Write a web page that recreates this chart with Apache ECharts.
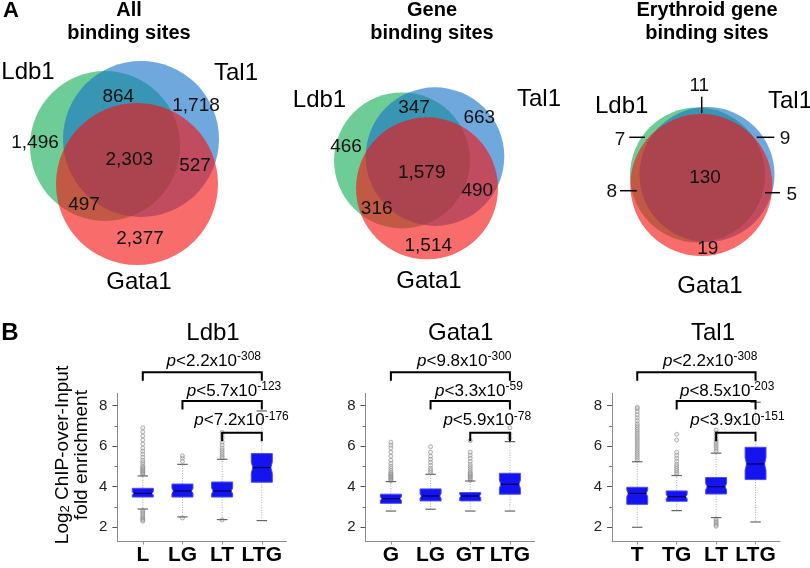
<!DOCTYPE html>
<html><head><meta charset="utf-8">
<script src="https://cdn.jsdelivr.net/npm/echarts@6/dist/echarts.min.js"></script>
<style>html,body{margin:0;padding:0;background:#fff}#c{width:810px;height:568px}</style>
</head><body><div id="c"></div>
<script>
// ---------------- DATA ----------------
const vennSets = ['Ldb1', 'Tal1', 'Gata1'];
const vennTitles = [['All', 'binding sites'], ['Gene', 'binding sites'], ['Erythroid gene', 'binding sites']];
// region order: Ldb1 only, Tal1 only, Gata1 only, Ldb1&Tal1, Ldb1&Gata1, Tal1&Gata1, all three
const vennAll  = [1496, 1718, 2377, 864, 497, 527, 2303];
const vennGene = [466, 663, 1514, 347, 316, 490, 1579];
const vennEry  = [7, 9, 19, 11, 8, 5, 130];

const boxTitles = ['Ldb1', 'Gata1', 'Tal1'];
const ldb1Cats = ['L', 'LG', 'LT', 'LTG'];
const gata1Cats = ['G', 'LG', 'GT', 'LTG'];
const tal1Cats = ['T', 'TG', 'LT', 'LTG'];
// [lower whisker, Q1, median, Q3, upper whisker]
const ldb1Box = [[2.90, 3.49, 3.67, 3.92, 4.53], [2.51, 3.49, 3.79, 4.13, 5.10], [2.38, 3.49, 3.79, 4.23, 5.35], [2.33, 4.22, 4.94, 5.63, 7.73]];
const gata1Box = [[2.80, 3.18, 3.41, 3.63, 4.25], [2.89, 3.30, 3.54, 3.89, 4.61], [2.80, 3.30, 3.54, 3.71, 4.28], [2.80, 3.63, 4.12, 4.66, 6.22]];
const tal1Box = [[2.00, 3.13, 3.67, 3.97, 5.23], [2.82, 3.28, 3.51, 3.79, 4.55], [2.48, 3.64, 4.00, 4.45, 5.65], [2.26, 4.35, 5.12, 5.94, 8.16]];
const ldb1Out = [
  [4.6, 4.65, 4.7, 4.75, 4.8, 4.85, 4.9, 4.95, 5.0, 5.1, 5.2, 5.3, 5.45, 5.6, 5.75, 5.9, 6.1, 6.3, 6.5, 6.7, 6.9, 2.82, 2.75, 2.68, 2.6, 2.52, 2.45, 2.4, 2.35, 2.3],
  [5.25, 5.4, 5.52, 2.46],
  [5.42, 5.5, 5.6, 5.7, 5.8, 5.9, 6.05, 6.2, 6.4, 6.55, 6.68, 2.36],
  []
];
const gata1Out = [
  [4.3, 4.35, 4.4, 4.45, 4.5, 4.55, 4.6, 4.65, 4.7, 4.8, 4.9, 5.0, 5.15, 5.3, 5.5, 5.7, 5.9, 6.05, 6.19],
  [4.7, 4.8, 4.9, 5.05, 5.2, 5.35, 5.5, 5.7, 5.97],
  [4.32, 4.38, 4.45, 4.5, 4.55, 4.6, 4.65, 4.7, 4.8, 4.9, 5.0, 5.1, 5.25, 5.4, 5.55, 5.7, 6.27],
  [6.4, 6.6, 6.9]
];
const tal1Out = [
  [5.3, 5.4, 5.5, 5.6, 5.7, 5.8, 5.9, 6.0, 6.1, 6.2, 6.3, 6.4, 6.5, 6.6, 6.7, 6.8, 6.9, 7.0, 7.1, 7.25, 7.4, 7.55, 7.7, 7.85, 7.91],
  [4.62, 4.7, 4.8, 4.9, 5.0, 5.1, 5.25, 5.4, 5.55, 5.7, 6.3, 6.58],
  [5.75, 5.85, 5.95, 6.05, 6.15, 6.25, 6.35, 6.5, 6.65, 6.79, 2.4, 2.32, 2.25, 2.18, 2.1, 2.05],
  []
];
// comparisons: [from, to, mantissa, exponent]
const ldb1P = [[0, 3, '2.2', '-308'], [1, 3, '5.7', '-123'], [2, 3, '7.2', '-176']];
const gata1P = [[0, 3, '9.8', '-300'], [1, 3, '3.3', '-59'], [2, 3, '5.9', '-78']];
const tal1P = [[0, 3, '2.2', '-308'], [1, 3, '8.5', '-203'], [2, 3, '3.9', '-151']];
const yTickLabels = [2, 4, 6, 8];
const yMinorTicks = [3, 5, 7];

// ---------------- LAYOUT / STYLE ----------------
const FONT = 'Liberation Sans, Arial, Helvetica, sans-serif';
const vennColors = ['rgba(21,174,86,0.62)', 'rgba(23,115,199,0.62)', 'rgba(244,18,18,0.62)'];
const vennLayout = [
  { circles: [[105, 146, 75], [141, 139, 78], [137, 184, 81]],
    regions: [[35, 142.7], [196, 106], [140, 238.3], [118.3, 96.7], [84, 205], [195, 165.7], [129.3, 160]],
    names: [[28, 72], [236, 73], [139, 282]], titleX: 129 },
  { circles: [[402, 160.4, 68], [435, 156.6, 69.3], [427, 188.3, 71]],
    regions: [[346, 146.7], [479.3, 117.3], [428.3, 246], [414, 107.3], [376.7, 209], [477.3, 190.7], [421.7, 172.7]],
    names: [[319.5, 100], [539, 99], [429, 281]], titleX: 432 },
  { circles: [[697.5, 175, 67.5], [707, 174.5, 67.5], [701.3, 185, 71]],
    regions: [[620, 139.3], [785, 138.3], [707.7, 248.3], [699.3, 86], [611.7, 191.7], [791.7, 195], [705, 177.7]],
    names: [[621.7, 106], [790, 101], [710, 286]], titleX: 707 }
];
const vennLeaders = [[[701.7, 96.7], [701.7, 113.3]], [[629.3, 137.3], [645, 137.3]], [[756.7, 137.3], [774.3, 137.3]], [[620, 190.7], [636.7, 190.7]], [[765, 192.7], [780, 192.7]]];

const boxGrids = [{ left: 117.4, width: 169 }, { left: 365.5, width: 169 }, { left: 612, width: 168 }];
const GRID_TOP = 393.3, GRID_H = 148.2, Y_MIN = 1.3, Y_MAX = 8.6, X_MIN = -0.64, X_MAX = 3.62;
const bracketLevels = [9.64, 8.22, 6.66], bracketDrop = 0.42;
const pLabelY = [10.19, 8.71, 7.27];
const pLabelX = [[1.79, 2.30, 2.49], [1.85, 2.22, 2.43], [1.85, 2.28, 2.54]];
const BOX_W = 0.53;

// ---------------- BUILD ----------------
const panels = [
  { cats: ldb1Cats, box: ldb1Box, out: ldb1Out, p: ldb1P },
  { cats: gata1Cats, box: gata1Box, out: gata1Out, p: gata1P },
  { cats: tal1Cats, box: tal1Box, out: tal1Out, p: tal1P }
];
const vennCounts = [vennAll, vennGene, vennEry];

const grid = [{ left: 0, top: 0, width: 810, height: 568 }];
const xAxis = [{ gridIndex: 0, type: 'value', min: 0, max: 810, show: false }];
const yAxis = [{ gridIndex: 0, type: 'value', min: 0, max: 568, inverse: true, show: false }];
panels.forEach((pn, i) => {
  grid.push({ left: boxGrids[i].left, width: boxGrids[i].width, top: GRID_TOP, height: GRID_H });
  xAxis.push({
    gridIndex: i + 1, type: 'value', min: X_MIN, max: X_MAX, position: 'bottom',
    axisLine: { show: true, onZero: false, lineStyle: { color: '#8c8c8c', width: 1 } },
    axisTick: { show: true, customValues: [0, 1, 2, 3], length: 3, lineStyle: { color: '#8c8c8c' } },
    axisLabel: { customValues: [0, 1, 2, 3], formatter: v => pn.cats[Math.round(v)], fontFamily: FONT, fontSize: 21, fontWeight: 'bold', color: '#000', margin: 3 },
    splitLine: { show: false }
  });
});
panels.forEach((pn, i) => {
  yAxis.push({
    gridIndex: i + 1, type: 'value', min: Y_MIN, max: Y_MAX, position: 'left',
    axisLine: { show: true, onZero: false, lineStyle: { color: '#8c8c8c', width: 1 } },
    axisTick: { show: true, customValues: yTickLabels, length: 5, lineStyle: { color: '#555' } },
    axisLabel: { customValues: yTickLabels, fontFamily: FONT, fontSize: 15, color: '#222', margin: 10 },
    splitLine: { show: false }
  });
});
panels.forEach((pn, i) => {
  yAxis.push({
    gridIndex: i + 1, type: 'value', min: Y_MIN, max: Y_MAX, position: 'left', offset: 0,
    axisLine: { show: false, onZero: false },
    axisTick: { show: true, customValues: yMinorTicks, length: 3, lineStyle: { color: '#777' } },
    axisLabel: { show: false }, splitLine: { show: false }
  });
});

const series = [];
// Venn circles
const circleData = [];
vennLayout.forEach(L => L.circles.forEach((c, k) => circleData.push([c[0], c[1], c[2], k])));
series.push({
  type: 'custom', xAxisIndex: 0, yAxisIndex: 0, silent: true, z: 1,
  data: circleData,
  renderItem: (params, api) => {
    const p = api.coord([api.value(0), api.value(1)]);
    const r = api.size([api.value(2), 0])[0];
    return { type: 'circle', shape: { cx: p[0], cy: p[1], r: r }, style: { fill: vennColors[api.value(3)] } };
  }
});
// Venn counts
const vennTextPos = [], vennText = [];
vennLayout.forEach((L, p) => L.regions.forEach((pt, k) => { vennTextPos.push(pt); vennText.push(vennCounts[p][k].toLocaleString('en-US')); }));
series.push({
  type: 'custom', xAxisIndex: 0, yAxisIndex: 0, silent: true, z: 5,
  data: vennTextPos,
  renderItem: (params, api) => {
    const p = api.coord([api.value(0), api.value(1)]);
    return { type: 'text', x: p[0], y: p[1], style: { text: vennText[params.dataIndex], fontFamily: FONT, fontSize: 19, fill: '#111', align: 'center', verticalAlign: 'middle' } };
  }
});
// Venn set names
const namePos = [], nameText = [];
vennLayout.forEach(L => L.names.forEach((pt, k) => { namePos.push(pt); nameText.push(vennSets[k]); }));
series.push({
  type: 'custom', xAxisIndex: 0, yAxisIndex: 0, silent: true, z: 5,
  data: namePos,
  renderItem: (params, api) => {
    const p = api.coord([api.value(0), api.value(1)]);
    return { type: 'text', x: p[0], y: p[1], style: { text: nameText[params.dataIndex], fontFamily: FONT, fontSize: 24, fill: '#000', align: 'center', verticalAlign: 'middle' } };
  }
});
// Venn leader lines
series.push({
  type: 'custom', xAxisIndex: 0, yAxisIndex: 0, silent: true, z: 5,
  data: vennLeaders.map(l => [l[0][0], l[0][1], l[1][0], l[1][1]]),
  renderItem: (params, api) => {
    const a = api.coord([api.value(0), api.value(1)]), b = api.coord([api.value(2), api.value(3)]);
    return { type: 'line', shape: { x1: a[0], y1: a[1], x2: b[0], y2: b[1] }, style: { stroke: '#000', lineWidth: 1.5 } };
  }
});

// Boxplots
panels.forEach((pn, i) => {
  const xi = i + 1, yi = i + 1;
  series.push({
    type: 'custom', xAxisIndex: xi, yAxisIndex: yi, silent: true, z: 3,
    data: pn.box.map((b, k) => [k].concat(b)),
    encode: { x: 0, y: [1, 2, 3, 4, 5] },
    renderItem: (params, api) => {
      const x = api.value(0);
      const mn = api.value(1), q1 = api.value(2), md = api.value(3), q3 = api.value(4), mx = api.value(5);
      const hw = api.size([BOX_W, 0])[0] / 2;
      const cx = api.coord([x, md])[0];
      const Y = v => api.coord([x, v])[1];
      const nh = (q3 - q1) * 0.2, ind = hw * 0.14;
      const pts = [[cx - hw, Y(q3)], [cx + hw, Y(q3)], [cx + hw, Y(md + nh)], [cx + hw - ind, Y(md)], [cx + hw, Y(md - nh)], [cx + hw, Y(q1)],
        [cx - hw, Y(q1)], [cx - hw, Y(md - nh)], [cx - hw + ind, Y(md)], [cx - hw, Y(md + nh)]];
      const capW = hw * 0.5;
      return { type: 'group', children: [
        { type: 'line', shape: { x1: cx, y1: Y(q3), x2: cx, y2: Y(mx) }, style: { stroke: '#a8a8a8', lineWidth: 1, lineDash: [1, 1.5] } },
        { type: 'line', shape: { x1: cx, y1: Y(q1), x2: cx, y2: Y(mn) }, style: { stroke: '#a8a8a8', lineWidth: 1, lineDash: [1, 1.5] } },
        { type: 'line', shape: { x1: cx - capW, y1: Y(mx), x2: cx + capW, y2: Y(mx) }, style: { stroke: '#666', lineWidth: 1.2 } },
        { type: 'line', shape: { x1: cx - capW, y1: Y(mn), x2: cx + capW, y2: Y(mn) }, style: { stroke: '#666', lineWidth: 1.2 } },
        { type: 'polygon', shape: { points: pts }, style: { fill: '#1414ee', stroke: '#4a4aff', lineWidth: 1 } },
        { type: 'line', shape: { x1: cx - hw + ind, y1: Y(md), x2: cx + hw - ind, y2: Y(md) }, style: { stroke: '#000050', lineWidth: 1.2 } }
      ] };
    }
  });
  const outData = [];
  pn.out.forEach((arr, k) => arr.forEach(v => outData.push([k, v])));
  series.push({
    type: 'scatter', xAxisIndex: xi, yAxisIndex: yi, silent: true, z: 2,
    symbol: 'circle', symbolSize: 4,
    itemStyle: { color: 'rgba(200,200,200,0.35)', borderColor: '#8a8a8a', borderWidth: 0.8 },
    data: outData
  });
  // brackets
  series.push({
    type: 'custom', xAxisIndex: xi, yAxisIndex: yi, silent: true, z: 6, clip: false,
    data: pn.p.map((c, k) => [c[0], c[1], bracketLevels[k]]),
    encode: { x: [0, 1], y: 2 },
    renderItem: (params, api) => {
      const lv = api.value(2);
      const a = api.coord([api.value(0), lv - bracketDrop]), b = api.coord([api.value(0), lv]);
      const c = api.coord([api.value(1), lv]), d = api.coord([api.value(1), lv - bracketDrop]);
      return { type: 'polyline', shape: { points: [a, b, c, d] }, style: { stroke: '#000', lineWidth: 2, fill: null } };
    }
  });
  // p labels
  series.push({
    type: 'custom', xAxisIndex: xi, yAxisIndex: yi, silent: true, z: 7, clip: false,
    data: pn.p.map((c, k) => [pLabelX[i][k], pLabelY[k]]),
    renderItem: (params, api) => {
      const c = pn.p[params.dataIndex];
      const p = api.coord([api.value(0), api.value(1)]);
      return { type: 'text', x: p[0], y: p[1], style: {
        text: '{i|p}{m|<' + c[2] + 'x10}{s|' + c[3] + '}',
        fontFamily: FONT, fill: '#000', align: 'center', verticalAlign: 'middle',
        rich: {
          i: { fontFamily: FONT, fontStyle: 'italic', fontSize: 17, lineHeight: 20, fill: '#000' },
          m: { fontFamily: FONT, fontSize: 17, lineHeight: 20, fill: '#000' },
          s: { fontFamily: FONT, fontSize: 12, lineHeight: 12, verticalAlign: 'top', fill: '#000' }
        } } };
    }
  });
});

// titles / labels
const txt = (text, x, y, size, bold, extra) => Object.assign({
  type: 'text', x: x, y: y, silent: true, z: 10,
  style: { text: text, fontFamily: FONT, fontSize: size, fontWeight: bold ? 'bold' : 'normal', fill: '#000',
    align: 'center', verticalAlign: 'middle', textAlign: 'center', textVerticalAlign: 'middle' }
}, extra || {});
const graphics = [];
graphics.push(txt('A', 11, 11, 22, true));
graphics.push(txt('B', 10, 333, 24, true));
vennLayout.forEach((L, p) => {
  graphics.push(txt(vennTitles[p][0], L.titleX, 10, 20, true));
  graphics.push(txt(vennTitles[p][1], L.titleX, 33, 20, true));
});
const boxTitleX = [213, 460.7, 713];
boxTitles.forEach((t, i) => graphics.push(txt(t, boxTitleX[i], 333, 24, false)));
graphics.push({
  type: 'text', x: 72, y: 455, rotation: Math.PI / 2, silent: true, z: 10,
  style: {
    text: '{n|Log}{s|2}{n| ChIP-over-Input}\n{n|fold enrichment}',
    fontFamily: FONT, fill: '#000', align: 'center', verticalAlign: 'middle', textAlign: 'center', textVerticalAlign: 'middle',
    rich: {
      n: { fontFamily: FONT, fontSize: 19, lineHeight: 19, fill: '#000' },
      s: { fontFamily: FONT, fontSize: 13, lineHeight: 13, verticalAlign: 'bottom', fill: '#000' }
    }
  }
});

const chart = echarts.init(document.getElementById('c'), null, { renderer: 'canvas', width: 810, height: 568 });
chart.setOption({
  animation: false,
  backgroundColor: '#fff',
  grid: grid, xAxis: xAxis, yAxis: yAxis, series: series, graphic: graphics
});
</script></body></html>
